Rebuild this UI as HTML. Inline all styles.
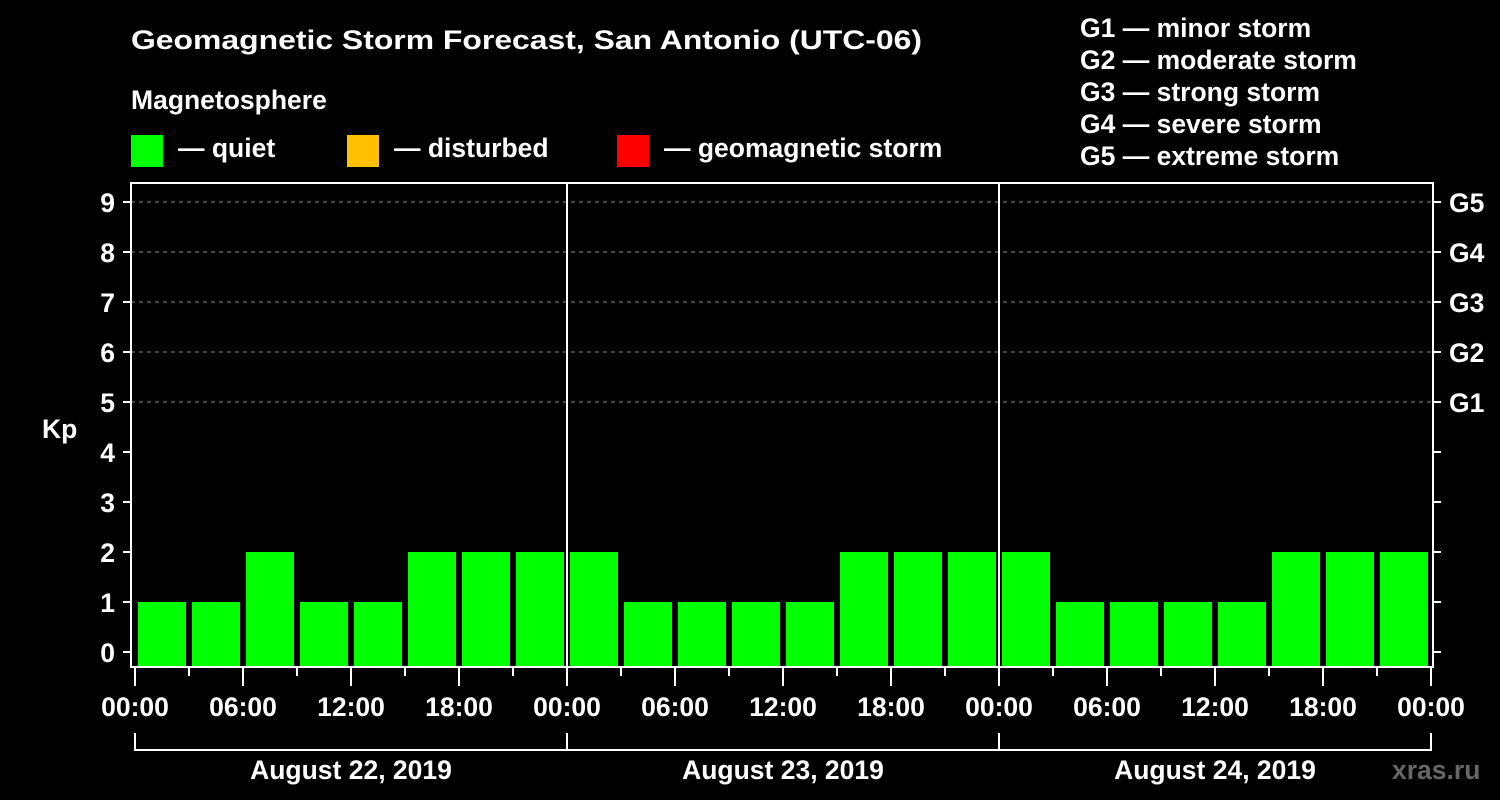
<!DOCTYPE html>
<html><head><meta charset="utf-8"><style>
body{margin:0;background:#000;}
svg{display:block;font-family:"Liberation Sans",Arial,sans-serif;font-weight:bold;}
</style></head><body>
<svg id="chart" width="1500" height="800" viewBox="0 0 1500 800">
<rect x="0" y="0" width="1500" height="800" fill="#000"/>
<text x="131" y="49" fill="#fff" font-size="26.5" textLength="791" lengthAdjust="spacingAndGlyphs">Geomagnetic Storm Forecast, San Antonio (UTC-06)</text>
<text x="131" y="109" fill="#fff" font-size="26.5">Magnetosphere</text>
<g><rect x="131" y="135" width="32" height="32" fill="#00ff00"/><text x="178" y="157" fill="#fff" font-size="26.5">— quiet</text></g>
<g><rect x="347" y="135" width="32" height="32" fill="#ffc000"/><text x="394" y="157" fill="#fff" font-size="26.5">— disturbed</text></g>
<g><rect x="617" y="135" width="32" height="32" fill="#ff0000"/><text x="664" y="157" fill="#fff" font-size="26.5">— geomagnetic storm</text></g>
<g fill="#fff" font-size="26.5">
<text x="1080" y="37">G1 — minor storm</text>
<text x="1080" y="69">G2 — moderate storm</text>
<text x="1080" y="101">G3 — strong storm</text>
<text x="1080" y="133">G4 — severe storm</text>
<text x="1080" y="165">G5 — extreme storm</text>
</g>
<text x="42" y="438" fill="#fff" font-size="26.5">Kp</text>
<text x="1392" y="779" fill="#666" font-size="26.5">xras.ru</text>
<g id="grid"></g><g id="bars"></g><g id="axes"></g>
</svg>
<script>
const days = ["August 22, 2019","August 23, 2019","August 24, 2019"];
const kpValues = [1,1,2,1,1,2,2,2, 2,1,1,1,1,2,2,2, 2,1,1,1,1,2,2,2];
const yTicks = [0,1,2,3,4,5,6,7,8,9];
const gLabels = ["G1","G2","G3","G4","G5"];
const xTickLabels = ["00:00","06:00","12:00","18:00"];

const NS="http://www.w3.org/2000/svg";
const x0=135, dayW=432, hourW=dayW/24;
const yScale=v=>652-50*v;
const xScale=h=>x0+h*hourW;
function mk(tag,attrs,parent,txt){const e=document.createElementNS(NS,tag);for(const k in attrs)e.setAttribute(k,attrs[k]);if(txt!==undefined)e.textContent=txt;parent.appendChild(e);return e;}
const gridG=document.getElementById('grid'),barsG=document.getElementById('bars'),axesG=document.getElementById('axes');
const plotTop=183,plotBottom=667,plotLeft=131,plotRight=1433;
gLabels.forEach((g,i)=>{const y=yScale(5+i);
 const l=mk('line',{x1:plotLeft,x2:plotRight,y1:y,y2:y,stroke:'#888','stroke-dasharray':'4,4','stroke-width':1},gridG);
 
 
 const t=mk('text',{x:1449,y:y+10,fill:'#fff','font-size':26.5},axesG,g);
 
 
});
kpValues.forEach((v,i)=>{const x=xScale(i*3)+3;const y=yScale(v);
 const color=v>=5?'#ff0000':(v>=4?'#ffc000':'#00ff00');
 const r=mk('rect',{x:x,y:y,width:48,height:plotBottom-y,fill:color},barsG);
 
 
});
mk('path',{d:`M${plotLeft} ${plotTop}H${plotRight}V${plotBottom}H${plotLeft}Z`,fill:'none',stroke:'#fff','stroke-width':2},axesG);
for(let d=1;d<days.length;d++){const x=x0+d*dayW;mk('line',{x1:x,x2:x,y1:plotTop,y2:plotBottom,stroke:'#fff','stroke-width':2},axesG);}
yTicks.forEach(v=>{const y=yScale(v);
 mk('line',{x1:123,x2:plotLeft,y1:y,y2:y,stroke:'#fff','stroke-width':2},axesG);
 mk('line',{x1:plotRight,x2:1441,y1:y,y2:y,stroke:'#fff','stroke-width':2},axesG);
 const t=mk('text',{x:115,y:y+10,fill:'#fff','font-size':26.5,'text-anchor':'end'},axesG,String(v));
 
 
});
for(let h=0;h<=24*days.length;h+=3){const x=xScale(h);const major=h%6===0;
 mk('line',{x1:x,x2:x,y1:plotBottom,y2:major?686:676,stroke:'#fff','stroke-width':2},axesG);
 if(major){const t=mk('text',{x:x,y:716,fill:'#fff','font-size':26.5,'text-anchor':'middle'},axesG,xTickLabels[(h%24)/6]);
  
  }
}
mk('path',{d:`M${x0} 733V750H${x0+days.length*dayW}V733`,fill:'none',stroke:'#fff','stroke-width':2},axesG);
days.forEach((d,i)=>{const x=x0+i*dayW;
 if(i>0)mk('line',{x1:x,x2:x,y1:733,y2:750,stroke:'#fff','stroke-width':2},axesG);
 const t=mk('text',{x:x+dayW/2,y:779,fill:'#fff','font-size':26.5,'text-anchor':'middle'},axesG,d);
 
 
});
</script>
</body></html>
